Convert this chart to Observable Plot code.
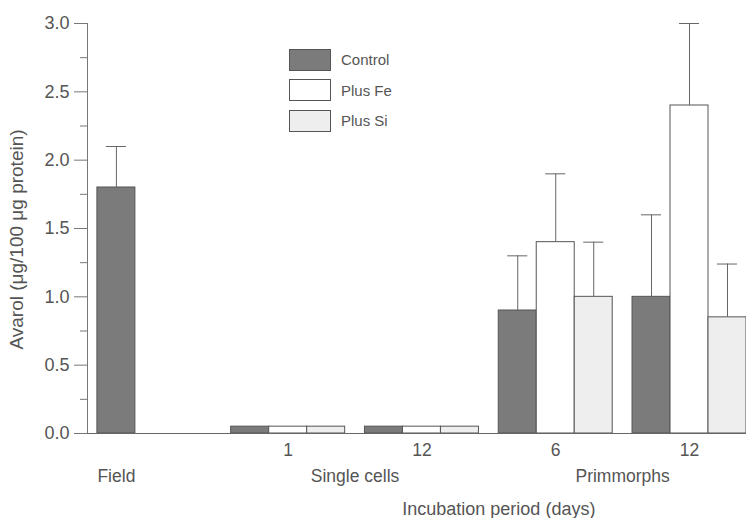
<!DOCTYPE html>
<html>
<head>
<meta charset="utf-8">
<script src="https://cdn.jsdelivr.net/npm/d3@7"></script>
<script src="https://cdn.jsdelivr.net/npm/@observablehq/plot@0.6"></script>
<style>
  html, body { margin: 0; padding: 0; background: #fff; }
  #wrap { position: relative; width: 746px; height: 518px; font-family: "Liberation Sans", Arial, sans-serif; }
  #legend { position: absolute; left: 289px; top: 49px; }
  .item { display: flex; align-items: center; height: 21px; margin-bottom: 9.5px; }
  .sw { width: 40px; height: 20px; border: 1px solid #555; box-sizing: content-box; }
  .lab { margin-left: 10px; font-size: 15px; color: #555; }
</style>
</head>
<body>
<div id="wrap"><div id="legend"></div></div>
<script>
// ---- data ----
const groups = ["Field", "Single cells 1", "Single cells 12", "Primmorphs 6", "Primmorphs 12"];
const tickLabels = ["Field", "1", "12", "6", "12"];
const stageLabels = ["Single cells", "Primmorphs"];
const stageGroups = [[1, 2], [3, 4]];
const treatments = ["Control", "Plus Fe", "Plus Si"];
const control    = [1.8, 0.05, 0.05, 0.9, 1.0];
const controlErr = [2.1, null, null, 1.3, 1.6];
const plusFe     = [null, 0.05, 0.05, 1.4, 2.4];
const plusFeErr  = [null, null, null, 1.9, 3.0];
const plusSi     = [null, 0.05, 0.05, 1.0, 0.85];
const plusSiErr  = [null, null, null, 1.4, 1.24];
const yTicks = [0, 0.5, 1.0, 1.5, 2.0, 2.5, 3.0];
const yMinorTicks = [0.25, 0.75, 1.25, 1.75, 2.25, 2.75];
const yLabel = "Avarol (\u03bcg/100 \u03bcg protein)";
const xTitle = "Incubation period (days)";

// ---- layout constants ----
const barW = 0.284;   // bar width in group-step units
const capW = 0.15;    // error cap width in group-step units
const fills = ["#7b7b7b", "#ffffff", "#eeeeee"];

const values = [control, plusFe, plusSi];
const errs = [controlErr, plusFeErr, plusSiErr];

const rows = [];
groups.forEach((g, i) => {
  treatments.forEach((t, j) => {
    const v = values[j][i];
    if (v == null) return;
    rows.push({group: g, gi: i, treatment: t, pos: i + (j - 1) * barW, value: v, err: errs[j][i]});
  });
});
const errRows = rows.filter(d => d.err != null);

const inStage = new Set(stageGroups.flat());
const tickRows = groups.map((g, i) => {
  const r = rows.filter(d => d.gi === i);
  return {label: tickLabels[i], x: d3.mean(r, d => d.pos), row: inStage.has(i) ? 0 : 1};
});
const stageRows = stageLabels.map((s, k) => ({label: s, x: d3.mean(stageGroups[k])}));
const titleX = d3.mean(stageGroups.flat());

const chart = Plot.plot({
  width: 746,
  height: 518,
  marginLeft: 87,
  marginRight: 0,
  marginTop: 23,
  marginBottom: 85,
  style: {fontFamily: "Liberation Sans, Arial, sans-serif", background: "transparent", color: "#555"},
  x: {type: "linear", domain: [-0.5, groups.length - 1 + 1.5 * barW], axis: null},
  y: {domain: [0, 3]},
  color: {domain: treatments, range: fills},
  marks: [
    Plot.rect(rows, {x1: d => d.pos - barW / 2, x2: d => d.pos + barW / 2, y1: () => 0, y2: "value",
      fill: "treatment", stroke: "#555", strokeWidth: 1}),
    Plot.ruleX(errRows, {x: "pos", y1: "value", y2: "err", stroke: "#666", strokeWidth: 1}),
    Plot.ruleY(errRows, {y: "err", x1: d => d.pos - capW / 2, x2: d => d.pos + capW / 2, stroke: "#666", strokeWidth: 1}),
    Plot.ruleY([0], {stroke: "#666"}),
    Plot.ruleX([-0.5], {y1: () => 0, y2: () => 3, stroke: "#777"}),
    Plot.axisY(yTicks, {tickSize: 13, tickPadding: 5, tickFormat: d3.format(".1f"), fontSize: 18, stroke: "#777", fill: "#555", label: null}),
    Plot.axisY(yMinorTicks, {tickSize: 7, tickFormat: () => "", stroke: "#777", label: null}),
    Plot.text(tickRows.filter(d => d.row === 0), {x: "x", text: "label", frameAnchor: "bottom", lineAnchor: "middle", dy: 17, fontSize: 17.5, fill: "#555"}),
    Plot.text(tickRows.filter(d => d.row === 1), {x: "x", text: "label", frameAnchor: "bottom", lineAnchor: "middle", dy: 43, fontSize: 17.5, fill: "#555"}),
    Plot.text(stageRows, {x: "x", text: "label", frameAnchor: "bottom", lineAnchor: "middle", dy: 43, fontSize: 17.5, fill: "#555"}),
    Plot.text([xTitle], {x: () => titleX, text: d => d, frameAnchor: "bottom", lineAnchor: "middle", dy: 76, dx: 10, fontSize: 18, fill: "#555"}),
    Plot.text([yLabel], {text: d => d, frameAnchor: "left", textAnchor: "middle", lineAnchor: "middle", rotate: -90, dx: -71, dy: 11, fontSize: 19, fill: "#555"})
  ]
});
document.getElementById("wrap").prepend(chart);

// legend
const legend = document.getElementById("legend");
treatments.forEach((t, j) => {
  const it = document.createElement("div");
  it.className = "item";
  it.innerHTML = `<div class="sw" style="background:${fills[j]}"></div><span class="lab">${t}</span>`;
  legend.appendChild(it);
});
</script>
</body>
</html>
